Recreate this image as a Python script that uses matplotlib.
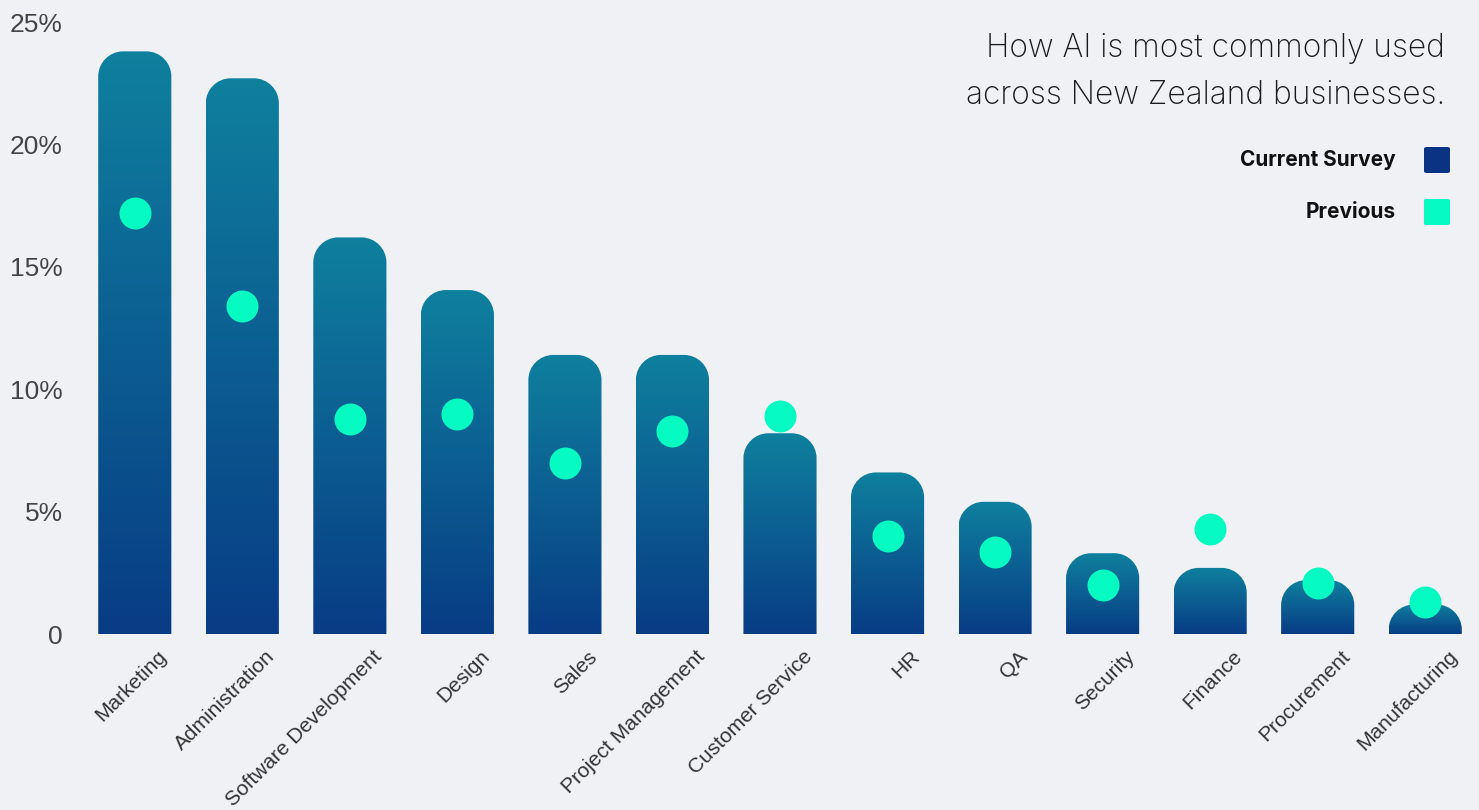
import matplotlib
matplotlib.use("Agg")
import matplotlib.pyplot as plt
import numpy as np
from matplotlib.path import Path
from matplotlib.patches import PathPatch, FancyBboxPatch
from matplotlib.colors import LinearSegmentedColormap
import matplotlib.transforms as mtransforms

categories = ["Marketing", "Administration", "Software Development", "Design", "Sales",
              "Project Management", "Customer Service", "HR", "QA", "Security",
              "Finance", "Procurement", "Manufacturing"]
current = [23.8, 22.7, 16.2, 14.05, 11.4, 11.4, 8.2, 6.6, 5.4, 3.3, 2.7, 2.2, 1.2]
previous = [17.2, 13.4, 8.8, 9.0, 7.0, 8.3, 8.9, 4.0, 3.35, 2.0, 4.3, 2.1, 1.3]
yticks = [0, 5, 10, 15, 20, 25]
ytick_labels = ["0", "5%", "10%", "15%", "20%", "25%"]

bg = "#f0f1f5"
top_col = "#0f809e"
bot_col = "#083c85"
dot_col = "#05fbc2"
navy = "#0a3383"

W, H = 1479, 810
fig = plt.figure(figsize=(W / 100, H / 100), dpi=100, facecolor=bg)
ax = fig.add_axes([81 / W, 1 - 634 / H, 1 - 81 / W, (634 - 22) / H])
ax.set_facecolor(bg)
ax.set_xlim(-0.5, len(categories) - 0.5)
ax.set_ylim(0, 25)

# pixel -> data scale for rounded corners
px_x = (len(categories)) / (W - 81)
px_y = 25 / (634 - 22)
radius = 25
width = 0.68
cmap = LinearSegmentedColormap.from_list("bar", [bot_col, top_col])
grad = np.linspace(0, 1, 256).reshape(-1, 1)

def rounded_bar(xc, h):
    x0, x1 = xc - width / 2, xc + width / 2
    rx = radius * px_x
    ry = min(radius * px_y, h)
    k = 0.5523
    verts = [(x0, 0), (x0, h - ry),
             (x0, h - ry + k * ry), (x0 + rx - k * rx, h), (x0 + rx, h),
             (x1 - rx, h),
             (x1 - rx + k * rx, h), (x1, h - ry + k * ry), (x1, h - ry),
             (x1, 0), (x0, 0)]
    codes = [Path.MOVETO, Path.LINETO,
             Path.CURVE4, Path.CURVE4, Path.CURVE4,
             Path.LINETO,
             Path.CURVE4, Path.CURVE4, Path.CURVE4,
             Path.LINETO, Path.CLOSEPOLY]
    return Path(verts, codes)

for i, v in enumerate(current):
    patch = PathPatch(rounded_bar(i, v), facecolor="none", edgecolor="none")
    ax.add_patch(patch)
    im = ax.imshow(grad, cmap=cmap, origin="lower", aspect="auto",
                   extent=(i - width / 2, i + width / 2, 0, v), zorder=2)
    im.set_clip_path(patch)

ax.set_xlim(-0.5, len(categories) - 0.5)
ax.set_ylim(0, 25)

ax.scatter(range(len(previous)), previous, s=530, color=dot_col, zorder=4, linewidths=0)

for s in ax.spines.values():
    s.set_visible(False)
ax.tick_params(length=0)
ax.set_yticks(yticks)
ax.set_yticklabels(ytick_labels, fontsize=19, color="#444444", family="Liberation Sans")
ax.tick_params(axis="y", pad=13)
ax.set_xticks([])

# category labels, rotated and shifted like the original
trans = mtransforms.blended_transform_factory(ax.transData, ax.transAxes)
offset = mtransforms.ScaledTranslation(36 / 100, -13 / 100, fig.dpi_scale_trans)
for i, cat in enumerate(categories):
    ax.text(i, 0, cat, transform=trans + offset, rotation=45, ha="right", va="top",
            fontsize=15, color="#333333", family="Liberation Sans", clip_on=False)

fig.text(1445 / W, 1 - 48 / H, "How AI is most commonly used", ha="right", va="center",
         fontsize=22.8, family="Inter", weight="light", color="#1a1a1a")
fig.text(1445 / W, 1 - 96 / H, "across New Zealand businesses.", ha="right", va="center",
         fontsize=22.8, family="Inter", weight="light", color="#1a1a1a")

for y, label, col in [(160, "Current Survey", navy), (212, "Previous", dot_col)]:
    fig.text(1396 / W, 1 - y / H, label, ha="right", va="center", fontsize=15,
             family="Inter", weight="bold", color="#111111")
    sq = FancyBboxPatch((1424 / W, 1 - (y + 13) / H), 26 / W, 26 / H,
                        boxstyle="round,pad=0,rounding_size=0.002",
                        transform=fig.transFigure, facecolor=col, edgecolor="none")
    fig.patches.append(sq)

fig.savefig("out.png", dpi=100, facecolor=bg)
